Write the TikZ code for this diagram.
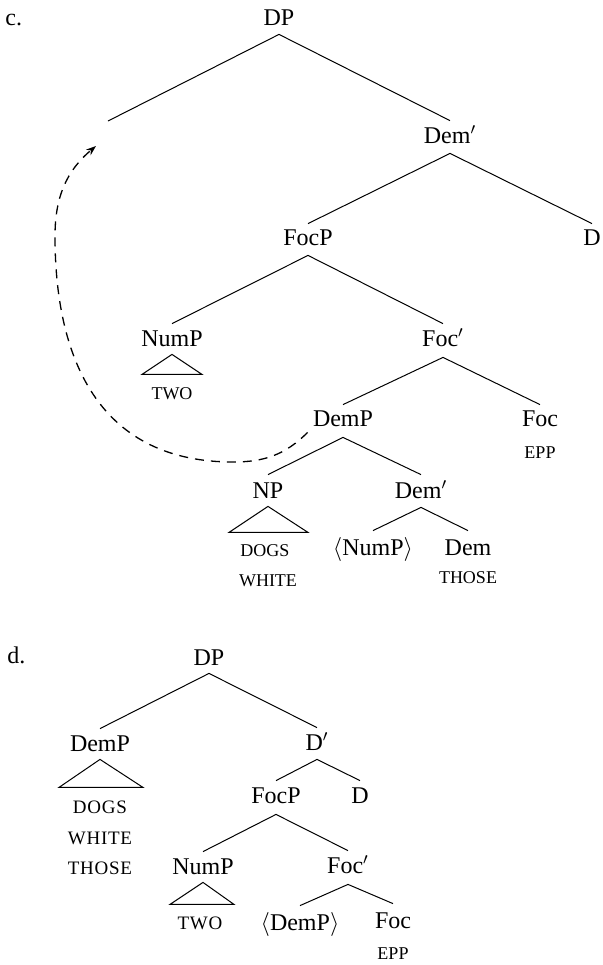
\documentclass[tikz,border=0pt]{standalone}
\usepackage{fontspec}
\setmainfont{Liberation Serif}
\usetikzlibrary{arrows.meta}
\begin{document}
\begin{tikzpicture}[x=0.5pt,y=-0.5pt,
  lab/.style={inner sep=0pt,text height=8pt,text depth=0pt,anchor=base,font=\fontsize{12}{14}\selectfont},
  sm/.style={inner sep=0pt,anchor=base,font=\fontsize{9}{11}\selectfont},
  smd/.style={inner sep=0pt,anchor=base,font=\fontsize{9.5}{11}\selectfont\addfontfeature{LetterSpace=4}},
  br/.style={line width=0.5pt},
  tri/.style={line width=0.5pt,line join=miter},
  mv/.style={line width=0.65pt,dash pattern=on 4.5pt off 3.5pt,-{Stealth[length=5pt,width=3.6pt]}}]
\useasboundingbox (0,0) rectangle (602,965);
% ---------- tree c ----------
\node[lab,anchor=base west] (lblc) at (5,25) {c.};
\node[lab] (dpc) at (279,25) {DP};
\coordinate (gapc) at (108,121);
\node[lab] (dembarc) at (450,143) {Dem$'$};
\node[lab] (focpc) at (308,245) {FocP};
\node[lab] (dc) at (592,245) {D};
\node[lab] (numpc) at (172,346) {NumP};
\node[lab] (focbarc) at (443,346) {Foc$'$};
\node[sm] (twoc) at (172,399) {TWO};
\node[lab] (dempc) at (343,426) {DemP};
\node[lab] (focc) at (540,426) {Foc};
\node[sm] (eppc) at (540,458) {EPP};
\node[lab] (npc) at (268,498) {NP};
\node[lab] (dembarcc) at (421,498) {Dem$'$};
\node[sm] (dogsc) at (265,556) {DOGS};
\node[sm] (whitec) at (268,586) {WHITE};
\node[lab] (numptrc) at (373,555) {$\langle$NumP$\rangle$};
\node[lab] (demc) at (468,555) {Dem};
\node[sm] (thosec) at (468,583) {THOSE};
\draw[br] ([yshift=-4.5pt]dpc.south) -- (gapc);
\draw[br] ([yshift=-4.5pt]dpc.south) -- ([yshift=3pt]dembarc.north);
\draw[br] ([yshift=-5pt]dembarc.south) -- ([yshift=2.5pt]focpc.north);
\draw[br] ([yshift=-5pt]dembarc.south) -- ([yshift=2.5pt]dc.north);
\draw[br] ([yshift=-5pt]focpc.south) -- ([yshift=3pt]numpc.north);
\draw[br] ([yshift=-5pt]focpc.south) -- ([yshift=3pt]focbarc.north);
\draw[br] ([yshift=-5.5pt]focbarc.south) -- ([yshift=2.5pt]dempc.north);
\draw[br] ([yshift=-5.5pt]focbarc.south) -- ([yshift=2.5pt]focc.north);
\draw[br] ([yshift=-5.5pt]dempc.south) -- ([yshift=3.5pt]npc.north);
\draw[br] ([yshift=-5.5pt]dempc.south) -- ([yshift=3.5pt]dembarcc.north);
\draw[br] ([yshift=-4.5pt]dembarcc.south) -- ([yshift=4pt]numptrc.north);
\draw[br] ([yshift=-4.5pt]dembarcc.south) -- ([yshift=4pt]demc.north);
\draw[tri] ([yshift=-4pt]numpc.south) -- ++(-15pt,-10pt) -- ++(30pt,0pt) -- cycle;
\draw[tri] ([yshift=-4pt]npc.south) -- ++(-19.5pt,-13pt) -- ++(39.5pt,0pt) -- cycle;
% movement arrow
\coordinate (mvbot) at (233,462);
\coordinate (mvleft) at (55,236);
\coordinate (mvtip) at (96,146);
\draw[mv] ([xshift=-2.5pt,yshift=-3pt]dempc.south west)
  to[out=225,in=0] (mvbot)
  to[out=180,in=-90,looseness=1.15] (mvleft)
  to[out=90,in=220] (mvtip);
% ---------- tree d ----------
\node[lab,anchor=base west] (lbld) at (7,663) {d.};
\node[lab] (dpd) at (209,665) {DP};
\node[lab] (dempd) at (100,751) {DemP};
\node[lab] (dbard) at (317,750) {D$'$};
\node[smd] (dogsd) at (100,813) {DOGS};
\node[smd] (whited) at (100,844) {WHITE};
\node[smd] (thosed) at (100,874) {THOSE};
\node[lab] (focpd) at (276,803) {FocP};
\node[lab] (dd) at (360,803) {D};
\node[lab] (numpd) at (203,874) {NumP};
\node[lab] (focbard) at (348,873) {Foc$'$};
\node[smd] (twod) at (200,929) {TWO};
\node[lab] (demptrd) at (300,930) {$\langle$DemP$\rangle$};
\node[lab] (focd) at (393,928) {Foc};
\node[sm] (eppd) at (393,959) {EPP};
\draw[br] ([yshift=-4pt]dpd.south) -- ([yshift=3pt]dempd.north);
\draw[br] ([yshift=-4pt]dpd.south) -- ([yshift=3pt]dbard.north);
\draw[br] ([yshift=-4.5pt]dbard.south) -- ([yshift=3pt]focpd.north);
\draw[br] ([yshift=-4.5pt]dbard.south) -- ([yshift=3pt]dd.north);
\draw[br] ([yshift=-5.5pt]focpd.south) -- ([yshift=3pt]numpd.north);
\draw[br] ([yshift=-5.5pt]focpd.south) -- ([yshift=3pt]focbard.north);
\draw[br] ([yshift=-5.5pt]focbard.south) -- ([yshift=4pt]demptrd.north);
\draw[br] ([yshift=-5.5pt]focbard.south) -- ([yshift=4pt]focd.north);
\draw[tri] ([yshift=-4pt]dempd.south) -- ++(-20.5pt,-14pt) -- ++(42pt,0pt) -- cycle;
\draw[tri] ([yshift=-4pt]numpd.south) -- ++(-16.5pt,-11pt) -- ++(32pt,0pt) -- cycle;
\end{tikzpicture}
\end{document}
